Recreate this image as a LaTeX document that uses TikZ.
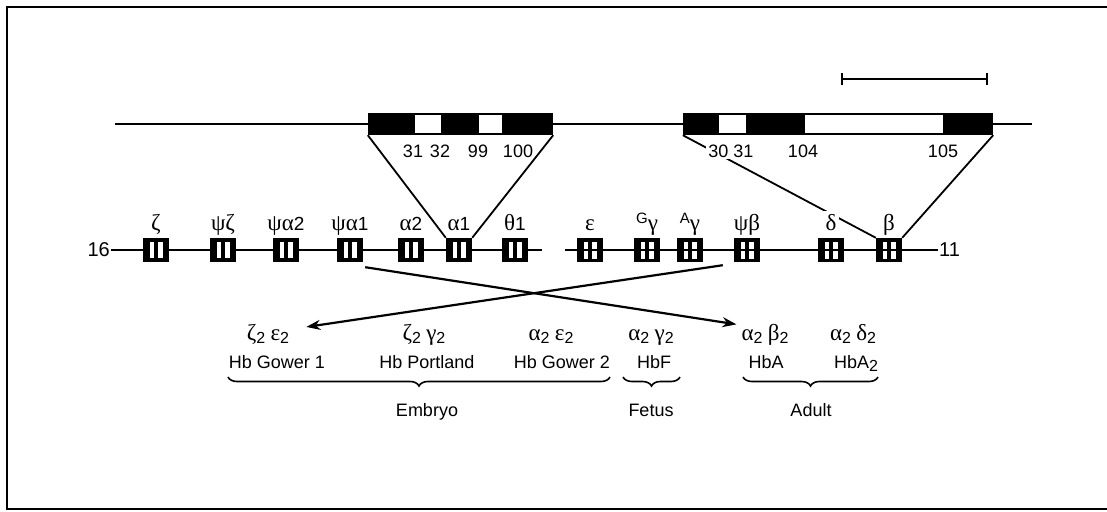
\documentclass[tikz,border=0pt]{standalone}
\usepackage{fontspec}
\setmainfont{Liberation Sans}
\newfontfamily\grf{Liberation Serif}
\usetikzlibrary{arrows.meta,decorations.pathreplacing,calc}
\newcommand\gk[1]{{\grf\fontsize{23}{26}\selectfont #1}}
\newcommand\sbt[1]{\raisebox{-3pt}{\fontsize{16}{16}\selectfont #1}}
\newcommand\spt[1]{\raisebox{7pt}{\fontsize{15}{15}\selectfont #1}}
\begin{document}
\begin{tikzpicture}[x=1pt,y=-1pt,
  every node/.style={inner sep=1pt},
  num/.style={font=\fontsize{18}{20}\selectfont, anchor=base},
  gl/.style={font=\fontsize{19}{22}\selectfont, anchor=base},
  hb/.style={font=\fontsize{18}{22}\selectfont, anchor=base},
  chrom/.style={line width=2.2pt},
  funnel/.style={line width=1.8pt},
  arr/.style={line width=2.2pt, -{Stealth[length=14pt,width=10pt]}},
  brc/.style={line width=1.6pt, decorate, decoration={brace, mirror, amplitude=9pt}},
  agene/.style={fill=black, minimum width=26pt, minimum height=24pt, inner sep=0pt,
    path picture={
      \fill[white] ($(path picture bounding box.center)+(-6.5pt,-8pt)$) rectangle ++(4.5pt,16pt);
      \fill[white] ($(path picture bounding box.center)+(2pt,-8pt)$) rectangle ++(4.5pt,16pt);}},
  bgene/.style={fill=black, minimum width=26pt, minimum height=24pt, inner sep=0pt,
    path picture={
      \fill[white] ($(path picture bounding box.center)+(-6.5pt,-8.5pt)$) rectangle ++(4.5pt,7.5pt);
      \fill[white] ($(path picture bounding box.center)+(2pt,-8.5pt)$) rectangle ++(4.5pt,7.5pt);
      \fill[white] ($(path picture bounding box.center)+(-6.5pt,1pt)$) rectangle ++(4.5pt,7.5pt);
      \fill[white] ($(path picture bounding box.center)+(2pt,1pt)$) rectangle ++(4.5pt,7.5pt);}},
  exonbar/.style={fill=black, minimum height=22pt, inner sep=0pt},
  window/.style={fill=white, minimum height=18pt, inner sep=0pt}
]
\useasboundingbox (0,0) rectangle (1107,511);
% frame
\draw[line width=2pt] (1107,7) -- (7,7) -- (7,509) -- (1107,509);

% scale bar
\coordinate (sbl) at (841,79);
\coordinate (sbr) at (988,79);
\draw[line width=2pt, {Bar[width=12pt]}-{Bar[width=12pt]}] (sbl) -- (sbr);

% top line with expanded genes
\coordinate (tl) at (115,124);
\coordinate (tr) at (1032,124);
\draw[chrom] (tl) -- (tr);
\node[exonbar, minimum width=185pt] (abar) at (460.5,124) {};
\node[window, minimum width=26pt] (aw1) at (428,124) {};
\node[window, minimum width=23pt] (aw2) at (490.5,124) {};
\node[exonbar, minimum width=310pt] (bbar) at (838,124) {};
\node[window, minimum width=27pt] (bw1) at (732.5,124) {};
\node[window, minimum width=138pt] (bw2) at (874,124) {};

% chromosome 16
\node[num, font=\fontsize{20}{22}\selectfont, anchor=east] (c16) at (111,250) {16};
\coordinate (aend) at (542,250);
\draw[chrom] (c16.east) -- (aend);
\foreach \n/\x in {zeta/156, psiz/223, psia2/286, psia1/350, alpha2/411, alpha1/459, theta1/515}
  \node[agene] (\n) at (\x,250) {};
% chromosome 11
\node[num, font=\fontsize{20}{22}\selectfont, anchor=west] (c11) at (938,250) {11};
\coordinate (bstart) at (565,250);
\draw[chrom] (bstart) -- (c11.west);
\foreach \n/\x in {eps/590, Ggam/647, Agam/690, psib/747, delta/831, beta/889}
  \node[bgene] (\n) at (\x,250) {};

% funnels
\draw[funnel] (abar.south west) -- (alpha1.north west);
\draw[funnel] (abar.south east) -- (alpha1.north east);
\draw[funnel] (bbar.south west) -- (beta.north west);
\draw[funnel] (bbar.south east) -- (beta.north east);

% exon numbers
\node[num] (n31a) at (413,157) {31};
\node[num] (n32a) at (440,157) {32};
\node[num] (n99a) at (478,157) {99};
\node[num] (n100a) at (518,157) {100};
\node[num, fill=white, inner sep=2pt] (n3031) at (731,157) {30 31};
\node[num] (n104) at (803,157) {104};
\node[num] (n105) at (943,157) {105};

% gene labels
\node[gl] (lzeta) at (156,230) {\gk{ζ}};
\node[gl] (lpsiz) at (223,230) {\gk{ψζ}};
\node[gl] (lpsia2) at (286,230) {\gk{ψα}2};
\node[gl] (lpsia1) at (350,230) {\gk{ψα}1};
\node[gl] (lalpha2) at (411,230) {\gk{α}2};
\node[gl] (lalpha1) at (459,230) {\gk{α}1};
\node[gl] (ltheta1) at (515,230) {\gk{θ}1};
\node[gl] (leps) at (590,230) {\gk{ε}};
\node[gl] (lGgam) at (647,230) {\spt{G}\gk{γ}};
\node[gl] (lAgam) at (690,230) {\spt{A}\gk{γ}};
\node[gl] (lpsib) at (747,230) {\gk{ψβ}};
\node[gl, fill=white, inner sep=3pt] (ldelta) at (831,230) {\gk{δ}};
\node[gl] (lbeta) at (889,230) {\gk{β}};

% hemoglobins
\node[gl] (ze) at (268,340) {\gk{ζ}\sbt{2} \gk{ε}\sbt{2}};
\node[gl] (zg) at (424,340) {\gk{ζ}\sbt{2} \gk{γ}\sbt{2}};
\node[gl] (ae) at (551,340) {\gk{α}\sbt{2} \gk{ε}\sbt{2}};
\node[gl] (ag) at (651,340) {\gk{α}\sbt{2} \gk{γ}\sbt{2}};
\node[gl] (ab) at (765,340) {\gk{α}\sbt{2} \gk{β}\sbt{2}};
\node[gl] (ad) at (853,340) {\gk{α}\sbt{2} \gk{δ}\sbt{2}};

\node[hb] (hg1) at (277,368) {Hb Gower 1};
\node[hb] (hp) at (427,368) {Hb Portland};
\node[hb] (hg2) at (562,368) {Hb Gower 2};
\node[hb] (hf) at (654,368) {HbF};
\node[hb] (ha) at (766,368) {HbA};
\node[hb] (ha2) at (856,368) {HbA\sbt{2}};

% braces
\draw[brc] (228,377) -- (610,377);
\draw[brc] (623,377) -- (680,377);
\draw[brc] (743,377) -- (878,377);
\node[hb] (emb) at (427,416) {Embryo};
\node[hb] (fet) at (651,416) {Fetus};
\node[hb] (adu) at (811,416) {Adult};

% crossing arrows
\draw[arr] ($(psia1.south east)+(2,5)$) -- ($(ab.west)+(-4,-10)$);
\draw[arr] ($(psib.south west)+(-11,3)$) -- ($(ze.east)+(16,-7)$);
\end{tikzpicture}
\end{document}
